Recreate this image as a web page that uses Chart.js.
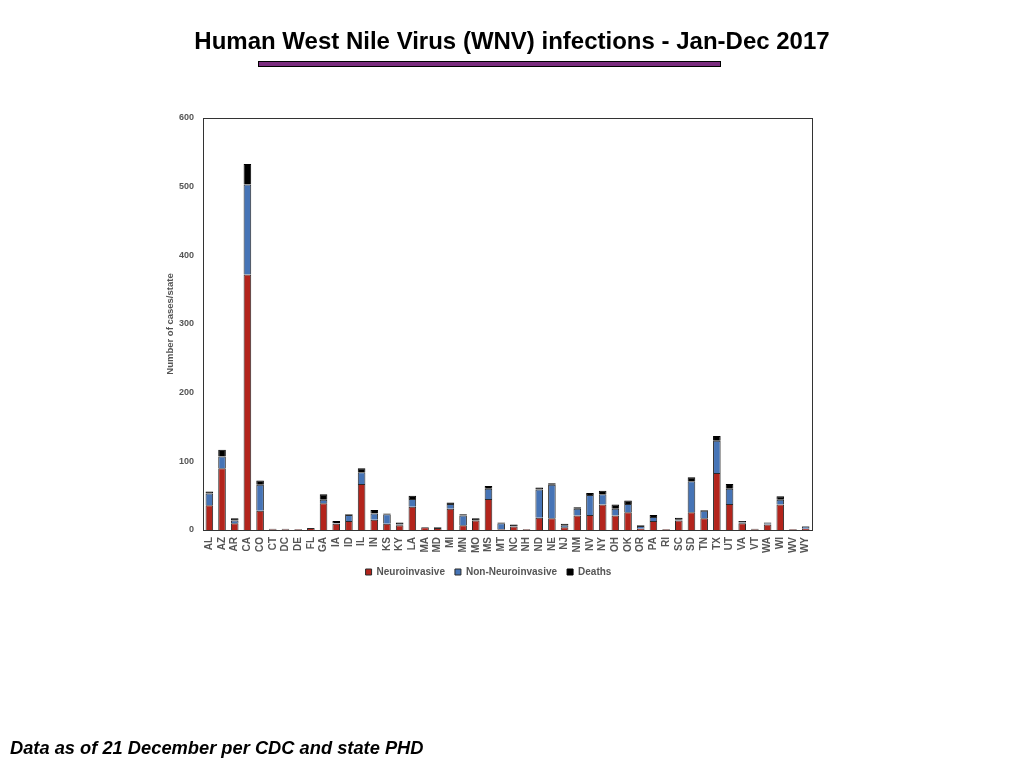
<!DOCTYPE html>
<html>
<head>
<meta charset="utf-8">
<script src="https://cdn.jsdelivr.net/npm/chart.js@4"></script>
<style>
  html, body { margin: 0; padding: 0; background: #fff; }
  body { width: 1024px; height: 768px; position: relative; overflow: hidden; font-family: "Liberation Sans", Arial, sans-serif; }
  #wrap { position: absolute; left: 0; top: 0; width: 1024px; height: 768px; }
  #title { position: absolute; left: 0; width: 1024px; top: 27px; text-align: center; font-weight: bold; font-size: 24px; color: #000; }
  #rule { position: absolute; left: 258px; top: 61px; width: 461px; height: 4px; background: #7b2d7f; border: 1px solid #000; }
  #foot { position: absolute; left: 10px; top: 737px; font-weight: bold; font-style: italic; font-size: 18.3px; color: #000; }
</style>
</head>
<body>
<div id="wrap"><canvas id="wnv"></canvas></div>
<div id="title">Human West Nile Virus (WNV) infections - Jan-Dec 2017</div>
<div id="rule"></div>
<div id="foot">Data as of 21 December per CDC and state PHD</div>
<script>
const states = ['AL', 'AZ', 'AR', 'CA', 'CO', 'CT', 'DC', 'DE', 'FL', 'GA', 'IA', 'ID', 'IL', 'IN', 'KS', 'KY',
    'LA', 'MA', 'MD', 'MI', 'MN', 'MO', 'MS', 'MT', 'NC', 'NH', 'ND', 'NE', 'NJ', 'NM', 'NV', 'NY',
    'OH', 'OK', 'OR', 'PA', 'RI', 'SC', 'SD', 'TN', 'TX', 'UT', 'VA', 'VT', 'WA', 'WI', 'WV', 'WY'];

const neuroinvasive = [36, 90, 10, 372, 28, 1, 1, 1, 3, 39, 9, 13, 67, 15, 9, 7,
    34, 4, 3, 31, 7, 14, 45, 1, 5, 1, 18, 17, 4, 21, 22, 37,
    21, 26, 2, 13, 1, 14, 26, 17, 83, 38, 10, 1, 8, 37, 1, 2];

const nonNeuroinvasive = [17, 17, 4, 131, 38, 0, 1, 0, 0, 5, 1, 9, 17, 9, 14, 1,
    11, 0, 0, 7, 14, 0, 15, 9, 1, 0, 41, 49, 3, 10, 29, 15,
    10, 12, 4, 6, 0, 1, 45, 11, 47, 22, 1, 0, 2, 7, 0, 3];

const deaths = [3, 10, 3, 30, 6, 1, 0, 0, 0, 8, 3, 1, 6, 5, 1, 3,
    5, 0, 1, 2, 2, 3, 4, 1, 2, 0, 3, 2, 2, 2, 3, 5,
    6, 5, 1, 3, 0, 3, 6, 1, 7, 7, 2, 1, 1, 5, 0, 1];

const yTicks = [0, 100, 200, 300, 400, 500, 600];

// box round the plot area, the reference has a full frame
const frame = {
    id: 'frame',
    afterDraw(chart) {
        const a = chart.chartArea;
        const c = chart.ctx;
        c.save();
        c.strokeStyle = '#333';
        c.lineWidth = 1;
        c.strokeRect(Math.round(a.left) + 0.5, Math.round(a.top) + 0.5, Math.round(a.right - a.left), Math.round(a.bottom - a.top));
        c.restore();
    }
};

const ctxWnv = document.getElementById('wnv').getContext('2d');
const wnvChart = new Chart(ctxWnv, {
    type: 'bar',
    data: {
        labels: states,
        datasets: [{
            label: 'Neuroinvasive',
            data: neuroinvasive,
            backgroundColor: '#b3241c',
            borderColor: '#2a2a2a',
            borderWidth: 1
        }, {
            label: 'Non-Neuroinvasive',
            data: nonNeuroinvasive,
            backgroundColor: '#4674b6',
            borderColor: '#2a2a2a',
            borderWidth: 1
        }, {
            label: 'Deaths',
            data: deaths,
            backgroundColor: '#000000',
            borderColor: '#000000',
            borderWidth: 1
        }]
    },
    plugins: [frame],
    options: {
        responsive: true,
        maintainAspectRatio: false,
        animation: false,
        layout: {
            padding: { left: 165, right: 212, top: 118, bottom: 181 }
        },
        datasets: {
            bar: { barPercentage: 0.6, categoryPercentage: 1 }
        },
        plugins: {
            legend: {
                position: 'bottom',
                labels: {
                    boxWidth: 6,
                    boxHeight: 6,
                    padding: 10,
                    color: '#555',
                    font: { family: 'Liberation Sans', size: 10, weight: 'bold' }
                }
            },
            tooltip: { enabled: false }
        },
        scales: {
            x: {
                stacked: true,
                grid: { display: false, drawTicks: false },
                border: { display: false },
                afterFit(s) { s.height = 27; },
                ticks: {
                    autoSkip: false,
                    minRotation: 90,
                    maxRotation: 90,
                    padding: 7,
                    color: '#555',
                    font: { family: 'Liberation Sans', size: 10, weight: 'bold' }
                }
            },
            y: {
                stacked: true,
                min: 0,
                max: 600,
                afterBuildTicks(s) { s.ticks = yTicks.map(v => ({ value: v })); },
                afterFit(s) { s.width = 38; },
                grid: { display: false, drawTicks: false },
                border: { display: false },
                title: {
                    display: true,
                    text: 'Number of cases/state',
                    color: '#555',
                    padding: 0,
                    font: { family: 'Liberation Sans', size: 9.5, weight: 'bold' }
                },
                ticks: {
                    padding: 9,
                    color: '#555',
                    font: { family: 'Liberation Sans', size: 9, weight: 'bold' }
                }
            }
        }
    }
});
</script>
</body>
</html>
